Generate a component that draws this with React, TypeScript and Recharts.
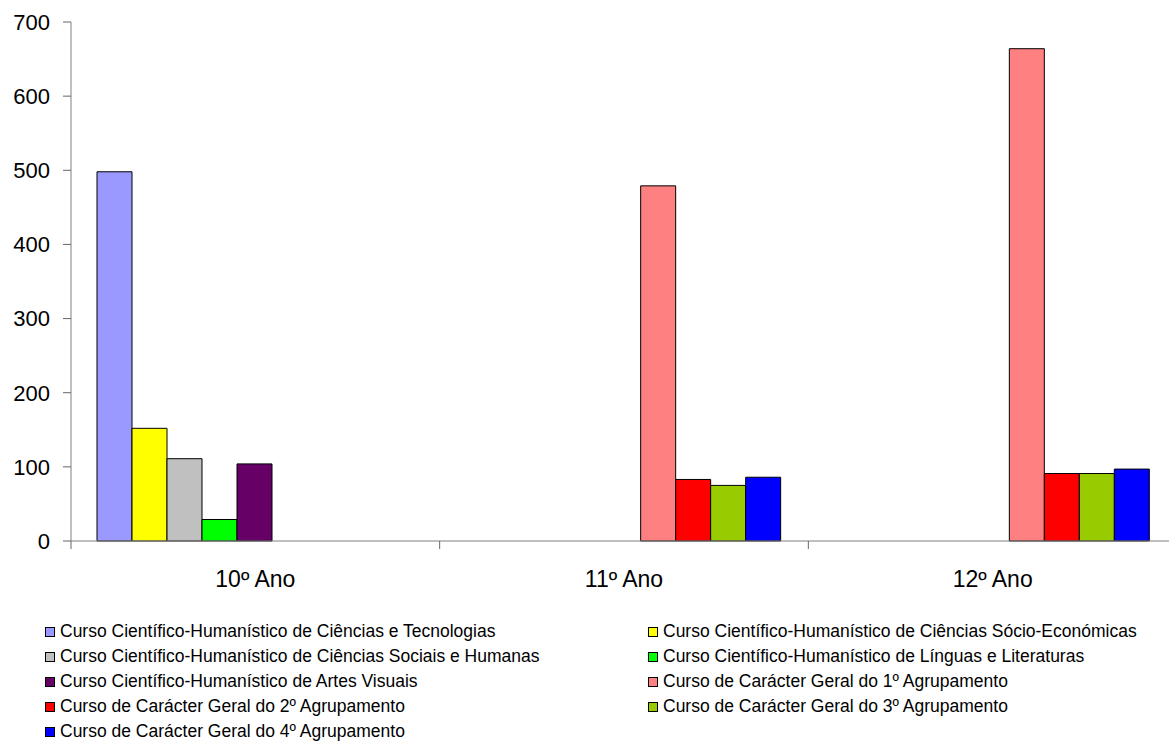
import { BarChart, Bar, XAxis, YAxis } from 'recharts';

// school years
const categories = ['10º Ano', '11º Ano', '12º Ano'];

const seriesNames = [
  'Curso Científico-Humanístico de Ciências e Tecnologias',
  'Curso Científico-Humanístico de Ciências Sócio-Económicas',
  'Curso Científico-Humanístico de Ciências Sociais e Humanas',
  'Curso Científico-Humanístico de Línguas e Literaturas',
  'Curso Científico-Humanístico de Artes Visuais',
  'Curso de Carácter Geral do 1º Agrupamento',
  'Curso de Carácter Geral do 2º Agrupamento',
  'Curso de Carácter Geral do 3º Agrupamento',
  'Curso de Carácter Geral do 4º Agrupamento',
];

const seriesColors = ['#9999FF', '#FFFF00', '#C0C0C0', '#00FF00', '#660066', '#FF8080', '#FF0000', '#99CC00', '#0000FF'];

// one array per series, one value per year (null = course not offered)
const cienciasTecnologias = [498, null, null];
const socioEconomicas = [152, null, null];
const sociaisHumanas = [111, null, null];
const linguasLiteraturas = [29, null, null];
const artesVisuais = [104, null, null];
const geral1 = [null, 479, 664];
const geral2 = [null, 83, 91];
const geral3 = [null, 75, 91];
const geral4 = [null, 86, 97];

const yTicks = [0, 100, 200, 300, 400, 500, 600, 700];

const seriesValues = [
  cienciasTecnologias, socioEconomicas, sociaisHumanas, linguasLiteraturas, artesVisuais,
  geral1, geral2, geral3, geral4,
];

const data = categories.map((name, i) => {
  const row: Record<string, any> = { name };
  seriesValues.forEach((vals, s) => { row[`s${s}`] = vals[i]; });
  return row;
});

const CHART_W = 1177;
const CHART_H = 600;
const Y_AXIS_W = 71;
const BAND = (CHART_W - Y_AXIS_W) / categories.length;
const FONT = '"Liberation Sans", Arial, sans-serif';

// category label in the middle, tick mark on the left edge of each band
const XTick = ({ x, y, payload }: any) => (
  <g>
    <line x1={x - BAND / 2} x2={x - BAND / 2} y1={y} y2={y + 8} stroke="#666" />
    <text x={x} y={y + 46} textAnchor="middle" fontSize={23} fontFamily={FONT} fill="#000">
      {payload.value}
    </text>
  </g>
);

export default function App() {
  const left = seriesNames.filter((_, i) => i % 2 === 0);
  const right = seriesNames.filter((_, i) => i % 2 === 1);

  const legendItem = (name: string) => {
    const idx = seriesNames.indexOf(name);
    return (
      <div key={name} style={{ display: 'flex', alignItems: 'center', height: 25 }}>
        <span
          style={{
            width: 8, height: 8, background: seriesColors[idx],
            border: '1px solid #000', marginRight: 5, flexShrink: 0,
          }}
        />
        <span>{name}</span>
      </div>
    );
  };

  return (
    <div style={{ position: 'absolute', left: 0, top: 0, width: 1169, height: 744, overflow: 'hidden', background: '#fff' }}>
      <BarChart
        width={CHART_W}
        height={CHART_H}
        data={data}
        margin={{ top: 22, right: 0, left: 0, bottom: 0 }}
        barGap={0}
        barCategoryGap={26}
      >
        <XAxis
          dataKey="name"
          height={59}
          tickSize={0}
          tickMargin={0}
          tick={<XTick />}
          axisLine={{ stroke: '#808080' }}
          tickLine={false}
          interval={0}
        />
        <YAxis
          width={Y_AXIS_W}
          domain={[0, 700]}
          ticks={yTicks}
          tickSize={8}
          tickMargin={13}
          axisLine={{ stroke: '#808080' }}
          tickLine={{ stroke: '#666' }}
          tick={{ fontSize: 22, fontFamily: FONT, fill: '#000' }}
        />
        {seriesNames.map((name, s) => (
          <Bar
            key={name}
            dataKey={`s${s}`}
            name={name}
            fill={seriesColors[s]}
            stroke="#000"
            strokeWidth={1}
            isAnimationActive={false}
          />
        ))}
      </BarChart>

      {/* legend, two columns, row-major like the original */}
      <div style={{ position: 'absolute', top: 619, left: 45, fontFamily: FONT, fontSize: 17.5, color: '#000' }}>
        {left.map(legendItem)}
      </div>
      <div style={{ position: 'absolute', top: 619, left: 648, fontFamily: FONT, fontSize: 17.5, color: '#000' }}>
        {right.map(legendItem)}
      </div>
    </div>
  );
}
